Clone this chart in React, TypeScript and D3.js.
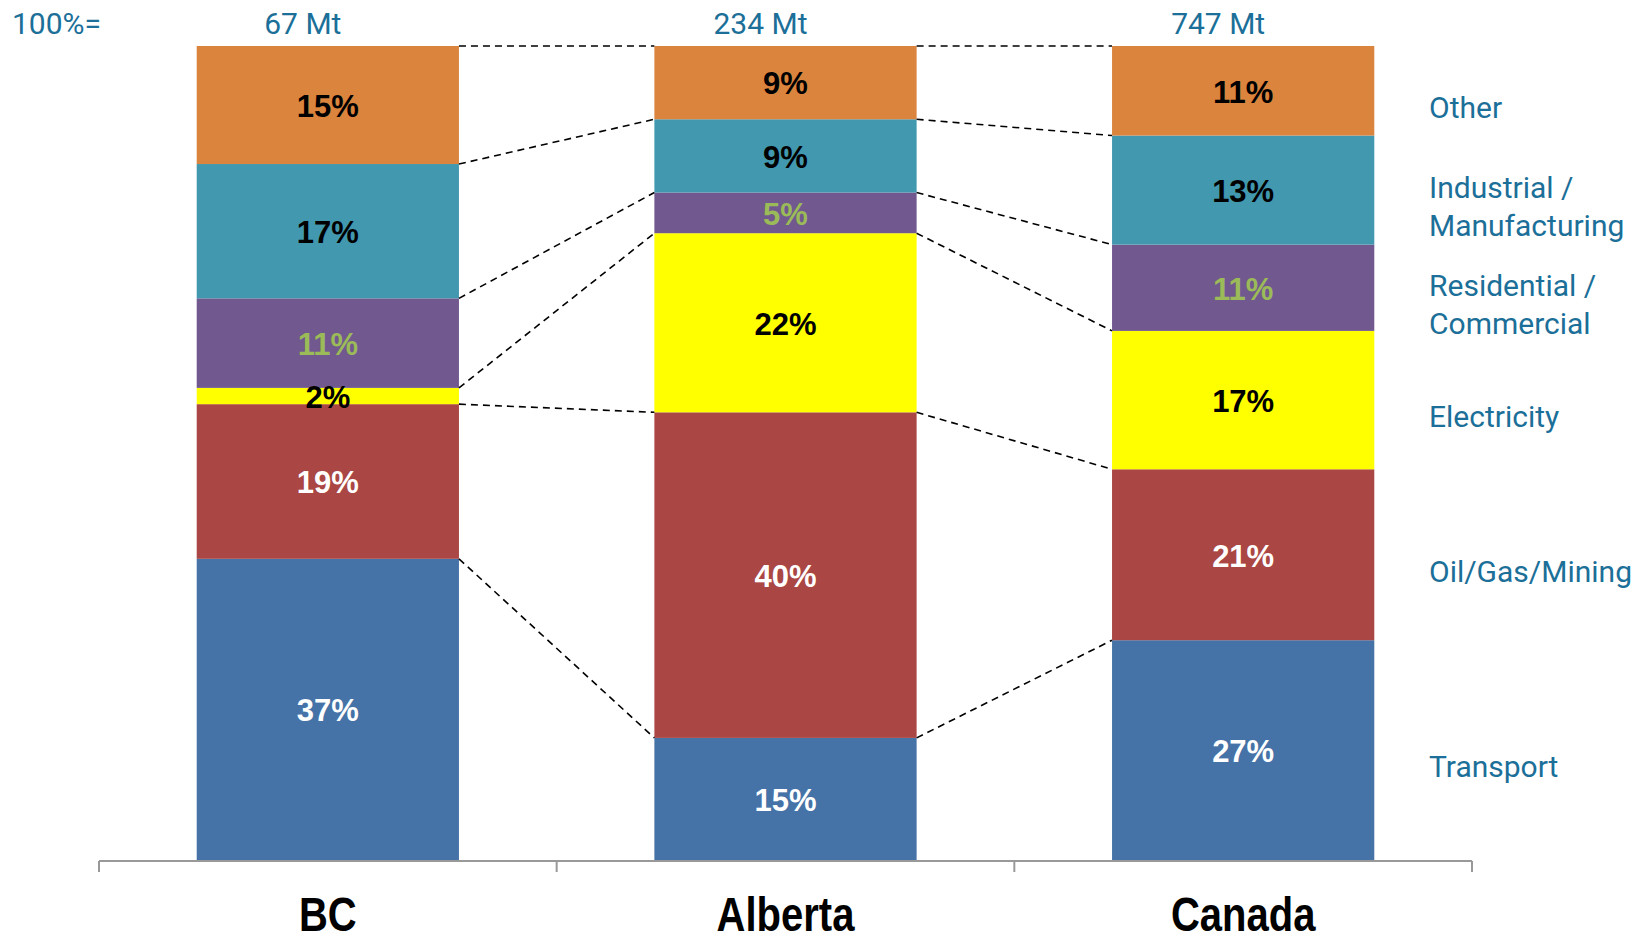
import React from 'react';
import * as d3 from 'd3';

// regions and their 100% totals
const regions = ['BC', 'Alberta', 'Canada'];
const totals = ['67 Mt', '234 Mt', '747 Mt'];

// sectors, bottom to top
const sectors = ['Transport', 'Oil/Gas/Mining', 'Electricity', 'Residential / Commercial', 'Industrial / Manufacturing', 'Other'];
const sectorColors = ['#4572A7', '#AA4643', '#FFFF00', '#71588F', '#4198AF', '#DB843D'];
const labelColors = ['#FFFFFF', '#FFFFFF', '#000000', '#9BBB59', '#000000', '#000000'];

// share of emissions (%) per region: BC, Alberta, Canada
const transport = [37, 15, 27];
const oilGasMining = [19, 40, 21];
const electricity = [2, 22, 17];
const residential = [11, 5, 10.6];
const industrial = [16.5, 9, 13.4];
const other = [14.5, 9, 11];

const W = 1640;
const H = 944;
const blue = '#1B6F98';

const App: React.FC = () => {
  const series = [transport, oilGasMining, electricity, residential, industrial, other];
  const rows = regions.map((r, i) => {
    const row: any = { region: r };
    sectors.forEach((s, j) => (row[s] = series[j][i]));
    return row;
  });
  const stacked = d3.stack().keys(sectors)(rows);

  const x = d3.scaleBand().domain(regions).range([99, 1472]);
  const barW = x.bandwidth() * 0.573;
  const barX = (r: string) => (x(r) || 0) + (x.bandwidth() - barW) / 2;
  const y = d3.scaleLinear().domain([0, 100]).range([860, 46]);

  // dashed connectors between neighbouring bars at each segment boundary
  const connectors: { x1: number; y1: number; x2: number; y2: number }[] = [];
  for (let i = 0; i < regions.length - 1; i++) {
    stacked.forEach((layer) => {
      connectors.push({
        x1: barX(regions[i]) + barW,
        y1: y(layer[i][1]),
        x2: barX(regions[i + 1]),
        y2: y(layer[i + 1][1]),
      });
    });
  }

  const last = regions.length - 1;
  const boundaries = [...regions.map((r) => x(r) || 0), 1472];

  return (
    <div style={{ position: 'absolute', left: 0, top: 0 }}>
      <svg width={W} height={H} style={{ display: 'block', background: '#fff' }}>
        {stacked.map((layer, j) => (
          <g key={sectors[j]}>
            {layer.map((d, i) => (
              <rect
                key={regions[i]}
                x={barX(regions[i])}
                y={y(d[1])}
                width={barW}
                height={y(d[0]) - y(d[1])}
                fill={sectorColors[j]}
              />
            ))}
          </g>
        ))}

        {connectors.map((c, k) => (
          <line key={k} x1={c.x1} y1={c.y1} x2={c.x2} y2={c.y2} stroke="#000" strokeWidth={1.6} strokeDasharray="7,5" />
        ))}

        {stacked.map((layer, j) =>
          layer.map((d, i) => (
            <text
              key={`${j}-${i}`}
              x={barX(regions[i]) + barW / 2}
              y={(y(d[0]) + y(d[1])) / 2}
              dy="0.38em"
              textAnchor="middle"
              fontFamily="'Liberation Sans', Arial, sans-serif"
              fontWeight="bold"
              fontSize={31}
              fill={labelColors[j]}
            >
              {Math.round(d[1] - d[0])}%
            </text>
          ))
        )}

        {/* totals row */}
        <text x={12} y={23} dy="0.36em" fontFamily="Roboto, sans-serif" fontSize={30} fill={blue}>
          100%=
        </text>
        {totals.map((t, i) => (
          <text
            key={t}
            x={barX(regions[i]) + barW / 2 - 25}
            y={23}
            dy="0.36em"
            textAnchor="middle"
            fontFamily="Roboto, sans-serif"
            fontSize={30}
            fill={blue}
          >
            {t}
          </text>
        ))}

        {/* legend beside the last bar */}
        {stacked.map((layer, j) => {
          const d = layer[last];
          const cy = (y(d[0]) + y(d[1])) / 2 + 16;
          const parts = sectors[j].includes(' / ') ? sectors[j].split(' / ').map((p, k, a) => (k < a.length - 1 ? p + ' /' : p)) : [sectors[j]];
          const lh = 38;
          return (
            <text key={sectors[j]} x={1429} fontFamily="Roboto, sans-serif" fontSize={30} fill={blue}>
              {parts.map((p, k) => (
                <tspan key={k} x={1429} y={cy + (k - (parts.length - 1) / 2) * lh} dy="0.36em">
                  {p}
                </tspan>
              ))}
            </text>
          );
        })}

        {/* axis */}
        <line x1={99} x2={1472} y1={861} y2={861} stroke="#999" strokeWidth={2} />
        {boundaries.map((b, k) => (
          <line key={k} x1={b} x2={b} y1={861} y2={872} stroke="#999" strokeWidth={2} />
        ))}
        {regions.map((r) => (
          <text
            key={r}
            transform={`translate(${(x(r) || 0) + x.bandwidth() / 2},914) scale(1,1.18)`}
            dy="0.36em"
            textAnchor="middle"
            fontFamily="'Liberation Sans', Arial, sans-serif"
            fontWeight="bold"
            fontSize={40}
            fill="#000"
          >
            {r}
          </text>
        ))}
      </svg>
    </div>
  );
};

export default App;
